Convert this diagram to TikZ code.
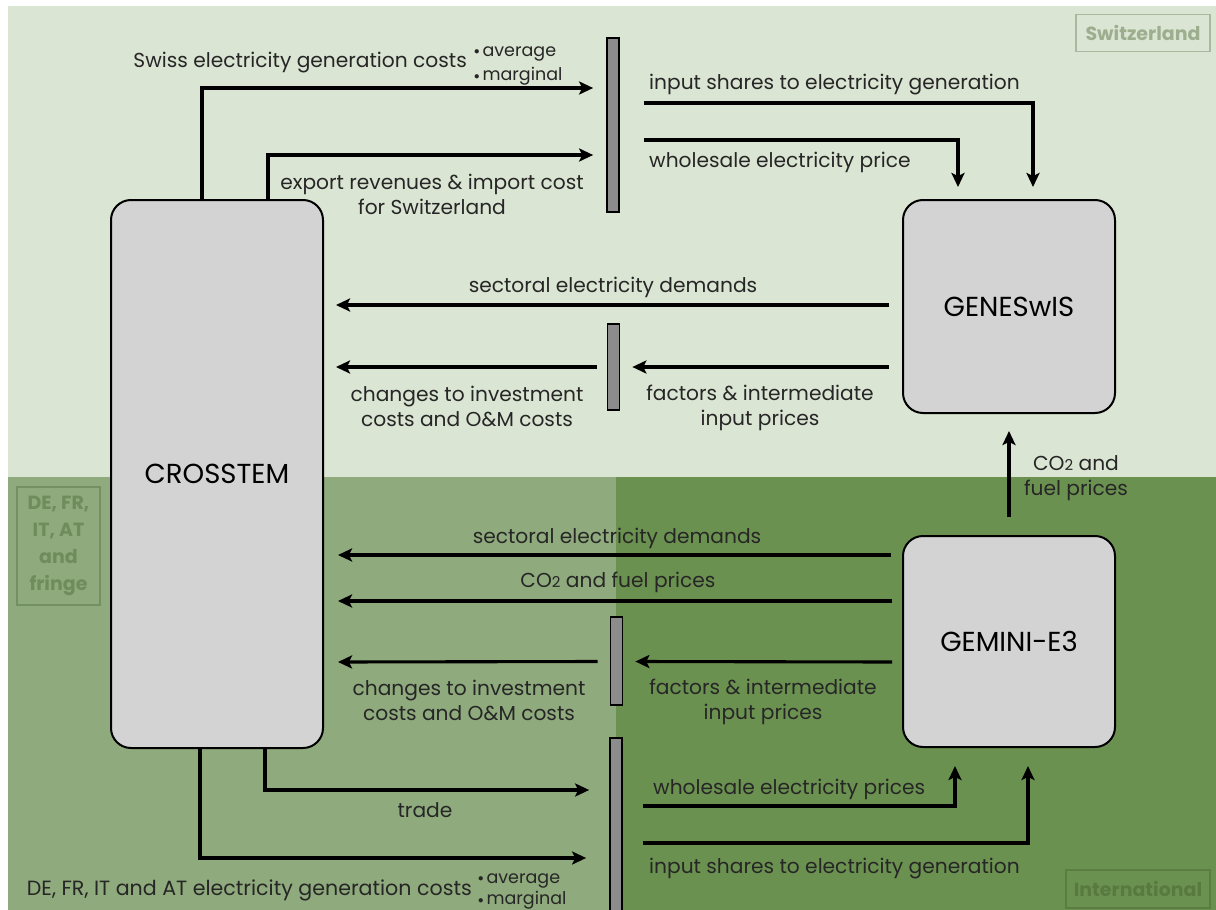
\documentclass[tikz,border=0pt]{standalone}
\usepackage{fontspec}
\setmainfont{Poppins}
\usetikzlibrary{arrows.meta,calc}
\definecolor{lightg}{RGB}{219,229,211}
\definecolor{midg}{RGB}{143,170,124}
\definecolor{darkg}{RGB}{107,145,80}
\definecolor{boxg}{RGB}{211,211,211}
\definecolor{barg}{RGB}{140,140,140}
\definecolor{swtxt}{RGB}{157,174,143}
\definecolor{detxt}{RGB}{110,140,92}
\definecolor{intxt}{RGB}{88,122,64}
\newcommand\lbl{\fontsize{20.2}{25}\selectfont}
\newcommand\sml{\fontsize{17.5}{22}\selectfont}
\newcommand\cotwo{CO{\fontsize{15}{15}\selectfont 2}}
\newcommand\bul{{\fontsize{11}{11}\selectfont\raisebox{0.25ex}{$\bullet$}}\,}
\tikzset{
  model/.style={draw=black, line width=2pt, fill=boxg, rounded corners=20pt, inner sep=0pt, font=\fontsize{27.5}{30}\selectfont},
  barbox/.style={draw=black, line width=1.7pt, fill=barg, minimum width=12pt, inner sep=0pt},
  arr/.style={line width=3.1pt, -{Stealth[length=14pt,width=13pt,inset=3pt]}},
  txt/.style={font=\lbl, inner sep=0pt, align=center, text=black!85, yshift=-2.5pt},
  region/.style={draw, line width=1.1pt, font=\fontsize{19}{27}\selectfont\bfseries, align=center, inner sep=2pt}
}
\begin{document}
\begin{tikzpicture}[x=1pt,y=-1pt]
\useasboundingbox (0,0) rectangle (1216,910);
\fill[white] (0,0) rectangle (1216,910);
\fill[lightg] (8,6) rectangle (1216,477);
\fill[midg] (8,477) rectangle (616,910);
\fill[darkg] (616,477) rectangle (1216,910);

% region labels
\node[region, draw=swtxt!80!lightg, text=swtxt, minimum width=134pt, minimum height=37pt] (sw) at (1143,33) {Switzerland};
\node[region, draw=detxt!85!midg, text=detxt, minimum width=83pt, minimum height=118pt] (de) at (58.5,546) {DE, FR,\\IT, AT\\and\\fringe};
\node[region, draw=intxt!85!darkg, text=intxt, minimum width=144pt, minimum height=38pt] (int) at (1138,889) {International};

% models
\node[model, minimum width=212pt, minimum height=548pt] (cross) at (217,474) {CROSSTEM};
\node[model, minimum width=212pt, minimum height=213pt] (genes) at (1009,306.5) {GENESwIS};
\node[model, minimum width=212pt, minimum height=211pt] (gem) at (1009,641.5) {GEMINI-E3};

% bars
\node[barbox, minimum height=174pt] (bar1) at (613,125) {};
\node[barbox, minimum height=86pt] (bar2) at (613.5,367) {};
\node[barbox, minimum height=88pt] (bar3) at (616.5,661) {};
\node[barbox, minimum height=190pt] (bar4) at (616,833) {};

% top: CROSSTEM -> bar1
\draw[arr] ($(cross.north)+(-15,0)$) |- ($(bar1.west)+(-13,-37)$);
\draw[arr] ($(cross.north)+(51,0)$) |- ($(bar1.west)+(-13,30)$);
% bar1 -> GENESwIS
\draw[arr] ($(bar1.east)+(24,-22)$) -| ($(genes.north)+(24,-12)$);
\draw[arr] ($(bar1.east)+(24,15)$) -| ($(genes.north)+(-51,-12)$);
% GENESwIS -> CROSSTEM
\draw[arr] ($(genes.west)+(-13,-1.5)$) -- ($(cross.east)+(12,-169)$);
\draw[arr] ($(genes.west)+(-13,60.5)$) -- ($(bar2.east)+(12,0)$);
\draw[arr] ($(bar2.west)+(-10,0)$) -- ($(cross.east)+(12,-107)$);
% GEMINI -> GENESwIS
\draw[arr] ($(gem.north)+(0,-18)$) -- ($(genes.south)+(0,17)$);
% GEMINI -> CROSSTEM
\draw[arr] ($(gem.west)+(-11,-86.5)$) -- ($(cross.east)+(14,81)$);
\draw[arr] ($(gem.west)+(-10,-40.5)$) -- ($(cross.east)+(14,127)$);
\draw[arr] ($(gem.west)+(-10,20.5)$) -- ($(bar3.east)+(12,0.5)$);
\draw[arr] ($(bar3.west)+(-12,0.5)$) -- ($(cross.east)+(14,188)$);
% CROSSTEM -> bar4
\draw[arr] ($(cross.south)+(48,0)$) |- ($(bar4.west)+(-20,-43)$);
\draw[arr] ($(cross.south)+(-17,0)$) |- ($(bar4.west)+(-23,25)$);
% bar4 -> GEMINI
\draw[arr] ($(bar4.east)+(20,-27)$) -| ($(gem.south)+(-54,18)$);
\draw[arr] ($(bar4.east)+(20,10)$) -| ($(gem.south)+(19,18)$);

% labels
\node[txt, anchor=east] (t1) at (467,60) {Swiss electricity generation costs};
\node[txt, anchor=west, font=\sml] (t1a) at (474,51) {\bul average};
\node[txt, anchor=west, font=\sml] (t1b) at (474,74) {\bul marginal};
\node[txt] (t2) at (432,192) {export revenues \& import cost\\for Switzerland};
\node[txt, anchor=west] (t3) at (649,82) {input shares to electricity generation};
\node[txt, anchor=west] (t4) at (649,160) {wholesale electricity price};
\node[txt] (t5) at (613,285) {sectoral electricity demands};
\node[txt] (t6) at (760,405) {factors \& intermediate\\input prices};
\node[txt] (t7) at (467,404) {changes to investment\\costs and O\&M costs};
\node[txt] (t8) at (1076,476) {\cotwo{} and\\fuel prices};
\node[txt] (t9) at (617,536) {sectoral electricity demands};
\node[txt] (t10) at (618,580) {\cotwo{} and fuel prices};
\node[txt] (t11) at (763,699) {factors \& intermediate\\input prices};
\node[txt] (t12) at (469,698) {changes to investment\\costs and O\&M costs};
\node[txt] (t13) at (425,808) {trade};
\node[txt, anchor=east, font=\fontsize{20.6}{25}\selectfont] (t14) at (472,888) {DE, FR, IT and AT electricity generation costs};
\node[txt, anchor=west, font=\sml] (t14a) at (478,878) {\bul average};
\node[txt, anchor=west, font=\sml] (t14b) at (478,898) {\bul marginal};
\node[txt, anchor=west] (t15) at (653,787) {wholesale electricity prices};
\node[txt, anchor=west] (t16) at (649,866) {input shares to electricity generation};
\end{tikzpicture}
\end{document}
